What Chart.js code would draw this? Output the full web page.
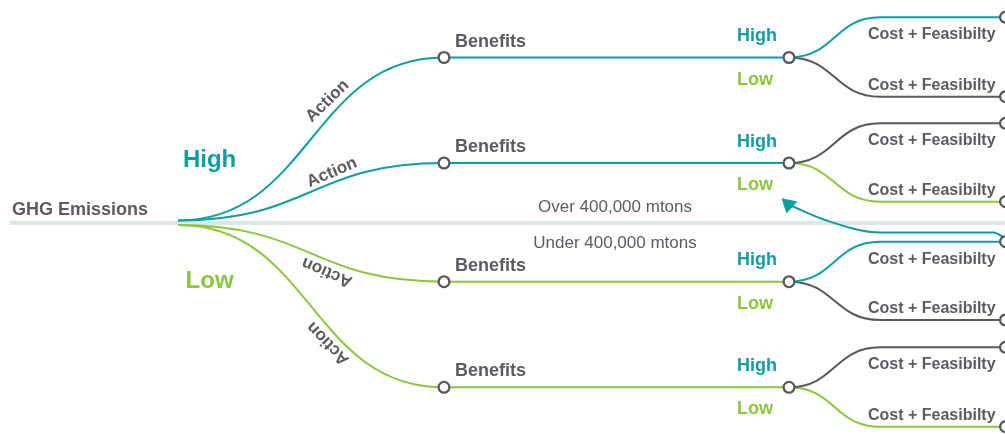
<!DOCTYPE html>
<html>
<head>
<meta charset="utf-8">
<script src="https://cdn.jsdelivr.net/npm/chart.js@4.4.1/dist/chart.umd.min.js"></script>
<style>
  html, body { margin: 0; padding: 0; background: #ffffff; overflow: hidden; }
  #wrap { width: 1005px; height: 434px; position: relative; }
</style>
</head>
<body>
<div id="wrap"><canvas id="c"></canvas></div>
<script>
// ---------------- data ----------------
const rootLabel = "GHG Emissions";
const emissionLevels = ["High", "Low"];
const thresholdLabels = ["Over 400,000 mtons", "Under 400,000 mtons"];
const actionLabel = "Action";
const benefitsLabel = "Benefits";
const benefitLevels = ["High", "Low"];
const costLabel = "Cost + Feasibilty";

// diagram stages along x (diagram units): root, benefits node, decision node, bend, leaf node
const stageX = [178, 444, 789, 880, 1005.5];
// where the High / Low emission branches leave the root
const rootY = [220.5, 225];
// threshold divider
const thresholdY = 222.8;
const dividerX = [9.3, 1005.5];
// Benefits rows (benefits node and decision node share the row)
const branchY = [57.5, 163, 281.7, 387.3];
const branchEmission = [0, 0, 1, 1];
// Cost + Feasibility leaves
const leafY = [17.3, 96.7, 123.3, 201.7, 241.7, 320, 347.3, 426.7];
const leafTone = ["high", "neutral", "neutral", "low", "high", "neutral", "neutral", "low"];
// feedback arrow path (from a leaf back to the "Low" outcome)
const feedbackX = [1008, 993, 880, 825, 788.5];
const feedbackY = [240, 232.5, 232.5, 220, 204.5];

// ---------------- styles ----------------
const C = {
  teal: '#0f9ea2',
  green: '#8cc63f',
  grey: '#58585f',
  text: '#5b5b62',
  divider: '#dfe6e7'
};
const toneColor = { high: C.teal, low: C.green, neutral: C.grey };
const emissionColor = [C.teal, C.green];
const FONT = '"Liberation Sans", Arial, sans-serif';

// ---------------- datasets ----------------
const datasets = [];

datasets.push({
  label: 'threshold',
  data: dividerX.map(x => ({ x, y: thresholdY })),
  borderColor: C.divider,
  borderWidth: 4.3,
  pointRadius: 0,
  order: 3
});

branchY.forEach((by, i) => {
  const e = branchEmission[i];
  datasets.push({
    label: 'branch' + i,
    data: [
      { x: stageX[0], y: rootY[e] },
      { x: stageX[1], y: by },
      { x: stageX[2], y: by }
    ],
    borderColor: emissionColor[e],
    borderWidth: 2,
    pointRadius: 0,
    cubicInterpolationMode: 'monotone',
    horizontalLinks: true,
    order: 2
  });
});

leafY.forEach((ly, j) => {
  const by = branchY[Math.floor(j / 2)];
  datasets.push({
    label: 'leaf' + j,
    data: [
      { x: stageX[2], y: by },
      { x: stageX[3], y: ly },
      { x: stageX[4], y: ly }
    ],
    borderColor: toneColor[leafTone[j]],
    borderWidth: 2,
    pointRadius: 0,
    cubicInterpolationMode: 'monotone',
    horizontalLinks: true,
    order: 2
  });
});

datasets.push({
  label: 'feedback',
  data: feedbackX.map((x, i) => ({ x, y: feedbackY[i] })),
  borderColor: C.teal,
  borderWidth: 2,
  cubicInterpolationMode: 'monotone',
  pointStyle: 'triangle',
  rotation: -48,
  pointRadius: ctx => (ctx.dataIndex === feedbackX.length - 1 ? 8.5 : 0),
  pointBackgroundColor: C.teal,
  pointBorderColor: C.teal,
  pointBorderWidth: 1,
  order: 1
});

// nodes (leaves first so the set is unsorted and all points are kept)
const nodePoints = [];
leafY.forEach(ly => nodePoints.push({ x: stageX[4], y: ly }));
branchY.forEach(by => nodePoints.push({ x: stageX[1], y: by }));
branchY.forEach(by => nodePoints.push({ x: stageX[2], y: by }));
datasets.push({
  label: 'nodes',
  data: nodePoints,
  showLine: false,
  pointRadius: 5.4,
  pointBorderWidth: 2.3,
  pointBackgroundColor: '#ffffff',
  pointBorderColor: C.grey,
  order: 0
});

// ---------------- plugins ----------------
// tree links: horizontal tangents at every node, control points at half span
const horizontalLinks = {
  id: 'horizontalLinks',
  beforeDatasetDraw(chart, args) {
    const ds = chart.data.datasets[args.index];
    if (!ds.horizontalLinks) return;
    const line = args.meta.dataset;
    if (!line || !line.points) return;
    line.updateControlPoints(chart.chartArea, 'x');
    const pts = line.points;
    for (let i = 0; i < pts.length; i++) {
      const p = pts[i];
      if (i > 0) {
        const h = (p.x - pts[i - 1].x) / 2;
        p.cp1x = p.x - h; p.cp1y = p.y;
      }
      if (i < pts.length - 1) {
        const h = (pts[i + 1].x - p.x) / 2;
        p.cp2x = p.x + h; p.cp2y = p.y;
      }
    }
  }
};

// label layout (diagram units)
const L = {
  root: { x: 12, base: 214.5, size: 18 },
  emission: { cx: 209.6, base: [166.5, 287.7], size: 24 },
  threshold: { cx: 615, base: [212.3, 248.3], size: 17 },
  benefits: { dx: 11, dy: -11, size: 18 },
  level: { dx: -52, dyHigh: -16.5, dyLow: 27, size: 18 },
  cost: { dx: -12, dyAbove: 22, dyBelow: -7, size: 16 },
  action: [
    { cx: 327.5, cy: 101, a: -44 },
    { cx: 332, cy: 172.5, a: -23 },
    { cx: 327, cy: 272, a: 203 },
    { cx: 328, cy: 343.3, a: 226 }
  ],
  actionSize: 17
};

const textLayer = {
  id: 'textLayer',
  afterDatasetsDraw(chart) {
    const { ctx } = chart;
    const xs = chart.scales.x, ys = chart.scales.y;
    const px = v => xs.getPixelForValue(v);
    const py = v => ys.getPixelForValue(v);
    const put = (txt, xv, yv, size, color, opts = {}) => {
      ctx.save();
      ctx.font = (opts.weight || 'bold') + ' ' + size + 'px ' + FONT;
      ctx.fillStyle = color;
      ctx.textAlign = opts.align || 'left';
      ctx.textBaseline = opts.baseline || 'alphabetic';
      ctx.translate(px(xv), py(yv));
      if (opts.angle) ctx.rotate(opts.angle * Math.PI / 180);
      ctx.fillText(txt, 0, 0);
      ctx.restore();
    };

    put(rootLabel, L.root.x, L.root.base, L.root.size, C.text);
    emissionLevels.forEach((t, i) =>
      put(t, L.emission.cx, L.emission.base[i], L.emission.size, emissionColor[i], { align: 'center' }));
    thresholdLabels.forEach((t, i) =>
      put(t, L.threshold.cx, L.threshold.base[i], L.threshold.size, C.text, { align: 'center', weight: 'normal' }));

    branchY.forEach((by, i) => {
      put(benefitsLabel, stageX[1] + L.benefits.dx, by + L.benefits.dy, L.benefits.size, C.text);
      put(benefitLevels[0], stageX[2] + L.level.dx, by + L.level.dyHigh, L.level.size, C.teal);
      put(benefitLevels[1], stageX[2] + L.level.dx, by + L.level.dyLow, L.level.size, C.green);
      const a = L.action[i];
      put(actionLabel, a.cx, a.cy, L.actionSize, C.text, { align: 'center', baseline: 'middle', angle: a.a });
    });

    leafY.forEach((ly, j) => {
      const by = branchY[Math.floor(j / 2)];
      const base = ly < by ? ly + L.cost.dyAbove : ly + L.cost.dyBelow;
      put(costLabel, stageX[3] + L.cost.dx, base, L.cost.size, C.text);
    });
  }
};

// ---------------- chart ----------------
new Chart(document.getElementById('c'), {
  type: 'line',
  data: { datasets },
  options: {
    responsive: true,
    maintainAspectRatio: false,
    animation: false,
    events: [],
    layout: { padding: 0, autoPadding: false },
    scales: {
      x: { type: 'linear', min: 0, max: 1005, display: false },
      y: { type: 'linear', min: 0, max: 434, reverse: true, display: false }
    },
    plugins: {
      legend: { display: false },
      tooltip: { enabled: false }
    },
    elements: { line: { capBezierPoints: false } }
  },
  plugins: [horizontalLinks, textLayer]
});
</script>
</body>
</html>
